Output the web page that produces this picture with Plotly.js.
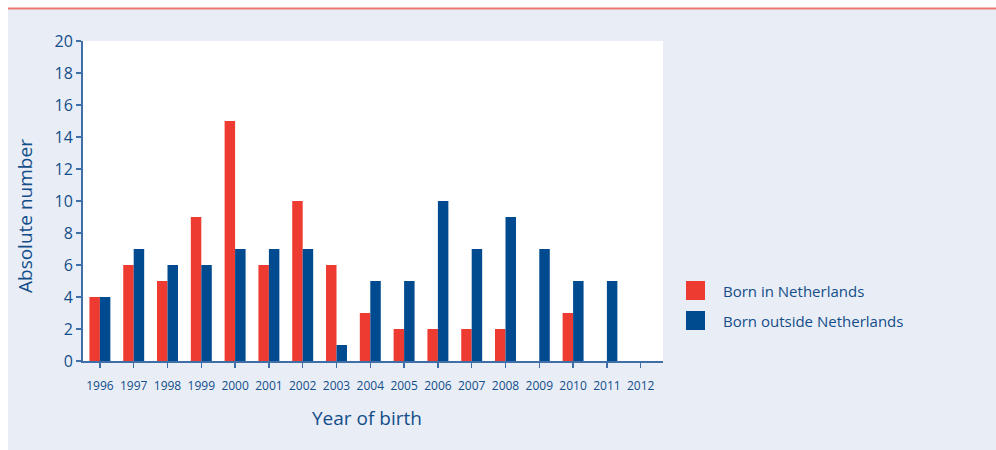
<!DOCTYPE html>
<html>
<head>
<meta charset="utf-8">
<script src="https://cdn.plot.ly/plotly-3.0.1.min.js"></script>
<style>html,body{margin:0;padding:0;background:#fff;}#chart{width:996px;height:450px;}</style>
</head>
<body>
<div id="chart"></div>
<script>
const years = ["1996","1997","1998","1999","2000","2001","2002","2003","2004","2005","2006","2007","2008","2009","2010","2011","2012"];
const bornInNL = [4,6,5,9,15,6,10,6,3,2,2,2,2,0,3,0,0];
const bornOutsideNL = [4,7,6,6,7,7,7,1,5,5,10,7,9,7,5,5,0];
const seriesNames = ["Born in Netherlands","Born outside Netherlands"];
const yTicks = [0,2,4,6,8,10,12,14,16,18,20];
const xTitle = "Year of birth";
const yTitle = "Absolute number";

const RED = "#ee3b32";
const BLUE = "#004a8f";
const TXT = "#134d8a";
const AX = "#3f6fa6";
const PANEL = "#e9edf6";
const FONT = "Open Sans, sans-serif";

const traces = [
  {type:"bar", x: years, y: bornInNL, name: seriesNames[0], marker:{color: RED}, showlegend:false},
  {type:"bar", x: years, y: bornOutsideNL, name: seriesNames[1], marker:{color: BLUE}, showlegend:false}
];

// layout geometry (pixels)
const L = 83, R = 663, T = 41, B = 361, W = 996, H = 450;
const pw = R - L, ph = B - T;
const px = v => (v - L) / pw;
const py = v => (B - v) / ph;

const shapes = [
  {type:"rect", xref:"paper", yref:"paper", x0:px(0), x1:px(W), y0:py(0), y1:py(9), fillcolor:"#ffffff", line:{width:0}, layer:"below"},
  {type:"rect", xref:"paper", yref:"paper", x0:px(0), x1:px(8), y0:py(0), y1:py(H), fillcolor:"#ffffff", line:{width:0}, layer:"below"},
  {type:"line", xref:"paper", yref:"paper", x0:px(8), x1:px(W), y0:py(8.5), y1:py(8.5), line:{color:"#ee7773", width:2}},
  {type:"rect", xref:"paper", yref:"paper", x0:px(686), x1:px(705), y0:py(300), y1:py(281), fillcolor:RED, line:{width:0}},
  {type:"rect", xref:"paper", yref:"paper", x0:px(686), x1:px(705), y0:py(330), y1:py(311), fillcolor:BLUE, line:{width:0}}
];

const annotations = [
  {xref:"paper", yref:"paper", x:px(721), y:py(291), xanchor:"left", yanchor:"middle", text:seriesNames[0], showarrow:false, font:{family:FONT, size:15, color:TXT}},
  {xref:"paper", yref:"paper", x:px(721), y:py(321), xanchor:"left", yanchor:"middle", text:seriesNames[1], showarrow:false, font:{family:FONT, size:15, color:TXT}},
  {xref:"paper", yref:"paper", x:px(367), y:py(418), xanchor:"center", yanchor:"middle", text:xTitle, showarrow:false, font:{family:FONT, size:19, color:TXT}},
  {xref:"paper", yref:"paper", x:px(25), y:py(216), xanchor:"center", yanchor:"middle", textangle:-90, text:yTitle, showarrow:false, font:{family:FONT, size:19, color:TXT}}
];

const layout = {
  width: W, height: H,
  margin: {l: L, r: W - R, t: T, b: H - B, pad: 0},
  paper_bgcolor: PANEL,
  plot_bgcolor: "#ffffff",
  barmode: "group",
  bargap: 0.38,
  bargroupgap: 0,
  font: {family: FONT, color: TXT},
  showlegend: false,
  xaxis: {
    type: "category",
    range: [-0.5, 16.66],
    showgrid: false, zeroline: false,
    showline: true, linecolor: AX, linewidth: 2,
    ticks: "outside", ticklen: 5, tickwidth: 1.5, tickcolor: AX,
    tickfont: {family: FONT, size: 12, color: TXT},
    ticklabelstandoff: 8,
    fixedrange: true
  },
  yaxis: {
    range: [0, 20],
    tickvals: yTicks,
    showgrid: false, zeroline: false,
    showline: true, linecolor: AX, linewidth: 2,
    ticks: "outside", ticklen: 5, tickwidth: 1.5, tickcolor: AX,
    tickfont: {family: FONT, size: 16, color: TXT},
    fixedrange: true
  },
  shapes: shapes,
  annotations: annotations
};

Plotly.newPlot("chart", traces, layout, {displayModeBar: false, staticPlot: true});
</script>
</body>
</html>
